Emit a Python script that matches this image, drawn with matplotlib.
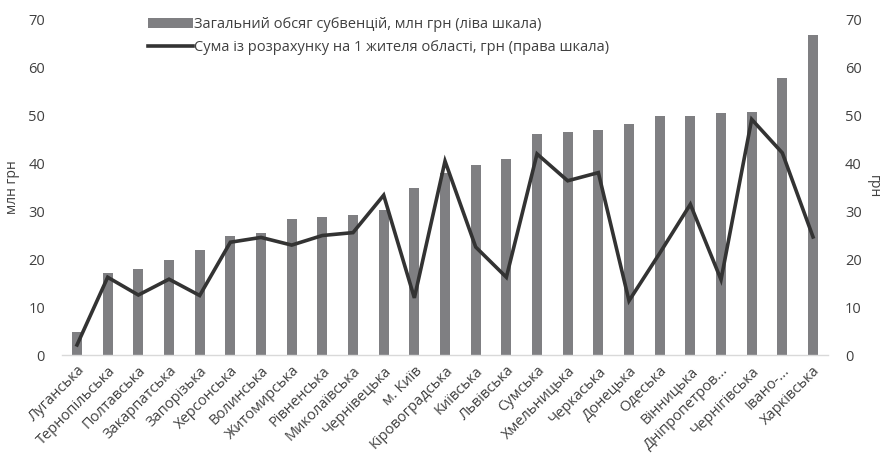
import matplotlib
matplotlib.use("Agg")
import matplotlib.pyplot as plt
import numpy as np

plt.rcParams['font.family'] = ['Open Sans', 'DejaVu Sans']

regions = ["Луганська", "Тернопільська", "Полтавська", "Закарпатська", "Запорізька",
           "Херсонська", "Волинська", "Житомирська", "Рівненська", "Миколаївська",
           "Чернівецька", "м. Київ", "Кіровоградська", "Київська", "Львівська",
           "Сумська", "Хмельницька", "Черкаська", "Донецька", "Одеська",
           "Вінницька", "Дніпропетров...", "Чернігівська", "Івано-...", "Харківська"]

total_mln = [4.8, 17.1, 17.9, 19.7, 21.8, 24.7, 25.4, 28.4, 28.8, 29.2,
             30.2, 34.8, 38.0, 39.5, 40.8, 46.1, 46.4, 46.8, 48.2, 49.8,
             49.8, 50.4, 50.6, 57.7, 66.6]

per_capita = [2.1, 16.2, 12.5, 15.8, 12.4, 23.5, 24.5, 22.9, 24.9, 25.5,
              33.3, 11.9, 40.4, 22.5, 16.2, 41.9, 36.3, 38.0, 11.3, 21.2,
              31.4, 15.7, 49.1, 42.1, 24.6]

bar_label = "Загальний обсяг субвенцій, млн грн (ліва шкала)"
line_label = "Сума із розрахунку на 1 жителя області, грн (права шкала)"
yticks = [0, 10, 20, 30, 40, 50, 60, 70]

fig = plt.figure(figsize=(8.85, 4.53), dpi=100)
ax = fig.add_axes([0.0697, 0.2163, 0.8663, 0.7417])
ax2 = ax.twinx()

x = np.arange(len(regions))
bars = ax.bar(x, total_mln, width=0.33, color='#7f7f82', zorder=2)
line, = ax2.plot(x, per_capita, color='#333333', lw=2.6, zorder=3,
                 solid_joinstyle='miter')

for a in (ax, ax2):
    a.set_ylim(0, 70)
    a.set_yticks(yticks)
    a.set_xlim(-0.5, len(regions) - 0.5)
    for s in a.spines.values():
        s.set_visible(False)
    a.tick_params(axis='y', length=0, labelsize=10.5, colors='#404040', pad=12)
ax.spines['bottom'].set_visible(True)
ax.spines['bottom'].set_color('#d9d9d9')
ax.spines['bottom'].set_linewidth(1.0)

ax.set_xticks(x)
ax.set_xticklabels(regions, rotation=45, ha='right', rotation_mode='anchor',
                   fontsize=10.5, color='#404040')
ax.tick_params(axis='x', length=0, pad=6)

ax.set_ylabel("млн грн", fontsize=10, color='#404040', labelpad=6)
ax2.set_ylabel("грн", fontsize=10, color='#404040', rotation=270, labelpad=14)

ax.set_zorder(ax2.get_zorder() - 1) if False else None
ax2.legend([bars, line], [bar_label, line_label], loc='upper left',
           bbox_to_anchor=(0.095, 1.045), frameon=False, fontsize=10.5,
           handlelength=3.1, handletextpad=0.1, labelspacing=0.55,
           labelcolor='#404040')

fig.savefig("out.png", dpi=100)
